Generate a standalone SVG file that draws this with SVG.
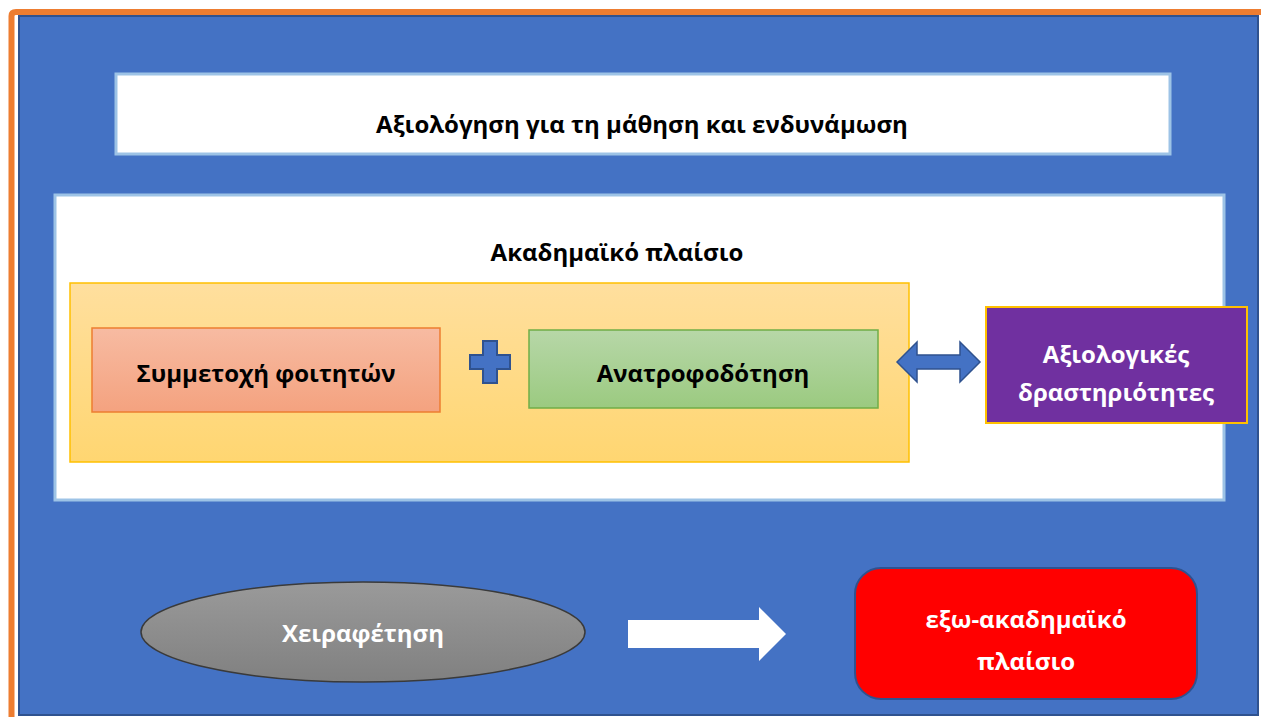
<svg xmlns="http://www.w3.org/2000/svg" width="1261" height="717" viewBox="0 0 1261 717">
<style>
text{font-family:"Open Sans","Noto Sans","DejaVu Sans",sans-serif;font-weight:bold;text-anchor:middle}
.dk{fill:#000;font-size:24px}
.wt{fill:#fff;font-size:24px}
</style>
<defs>
<linearGradient id="gOr" x1="0" y1="0" x2="0" y2="1"><stop offset="0" stop-color="#FFDF9E"/><stop offset="1" stop-color="#FFD671"/></linearGradient>
<linearGradient id="gSal" x1="0" y1="0" x2="0" y2="1"><stop offset="0" stop-color="#F7BBA2"/><stop offset="1" stop-color="#F4A27F"/></linearGradient>
<linearGradient id="gGr" x1="0" y1="0" x2="0" y2="1"><stop offset="0" stop-color="#B7D7A8"/><stop offset="1" stop-color="#9BCA80"/></linearGradient>
<linearGradient id="gGy" x1="0" y1="0" x2="0" y2="1"><stop offset="0" stop-color="#9A9A9A"/><stop offset="1" stop-color="#808080"/></linearGradient>
</defs>
<rect width="1261" height="717" fill="#fff"/>
<path d="M11.5,717 V16 Q11.5,12 16,12 H1261" fill="none" stroke="#ED7D31" stroke-width="6"/>
<rect id="bg" x="19" y="16" width="1239" height="699" fill="#4472C4" stroke="#2F528F" stroke-width="2"/>
<g id="title"><rect x="116" y="74" width="1054" height="80" fill="#fff" stroke="#9DC3E6" stroke-width="3"/><text class="dk" x="642" y="133">Αξιολόγηση για τη μάθηση και ενδυνάμωση</text></g>
<g id="academic"><rect x="55" y="195" width="1169" height="305" fill="#fff" stroke="#9DC3E6" stroke-width="3"/><text class="dk" x="617" y="261">Ακαδημαϊκό πλαίσιο</text></g>
<g id="inner"><rect x="70" y="283" width="839" height="179" fill="url(#gOr)" stroke="#FFC000" stroke-width="1.5"/></g>
<g id="participation"><rect x="92" y="328" width="348" height="84" fill="url(#gSal)" stroke="#ED7D31" stroke-width="1.5"/><text class="dk" x="266" y="382">Συμμετοχή φοιτητών</text></g>
<g id="plus"><path d="M483,341 H497 V355 H510 V369 H497 V383 H483 V369 H470 V355 H483 Z" fill="#4472C4" stroke="#2F528F" stroke-width="2"/></g>
<g id="feedback"><rect x="529" y="330" width="349" height="78" fill="url(#gGr)" stroke="#70AD47" stroke-width="1.5"/><text class="dk" x="703" y="382">Ανατροφοδότηση</text></g>
<g id="activities"><rect x="986" y="307" width="261" height="116" fill="#7030A0" stroke="#FFC000" stroke-width="2"/><text class="wt" x="1116" y="363">Αξιολογικές</text><text class="wt" x="1116" y="401">δραστηριότητες</text></g>
<g id="emancipation"><ellipse cx="363" cy="632" rx="222" ry="50" fill="url(#gGy)" stroke="#3A3A3A" stroke-width="1.5"/><text class="wt" x="363" y="642">Χειραφέτηση</text></g>
<g id="extra"><rect x="855" y="568" width="342" height="131" rx="26" fill="#FF0000" stroke="#2F528F" stroke-width="2"/><text class="wt" x="1026" y="628">εξω-ακαδημαϊκό</text><text class="wt" x="1026" y="670">πλαίσιο</text></g>
<g id="connectors">
<path d="M897,362 L917,342 V355 H960 V342 L980,362 L960,382 V369 H917 V382 Z" fill="#4472C4" stroke="#2F528F" stroke-width="1.5"/>
<path d="M628,620 H759 V607 L786,634 L759,661 V648 H628 Z" fill="#fff"/>
</g>
</svg>
